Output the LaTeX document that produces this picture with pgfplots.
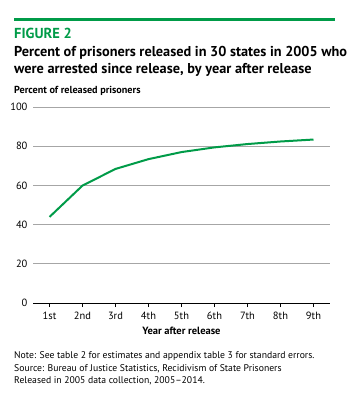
\documentclass[border=0pt]{standalone}
\usepackage{pgfplots}
\pgfplotsset{compat=1.18}
\usepackage{fontspec}
\setmainfont{PT Sans}
\definecolor{bjsgreen}{RGB}{0,155,72}
\begin{document}
\begin{tikzpicture}
\path (-33pt,-94pt) rectangle (330pt,303pt);
\begin{axis}[
  anchor=south west,
  scale only axis, width=297pt, height=196pt,
  xmin=0.5, xmax=9.5, ymin=0, ymax=100,
  xtick={1,...,9},
  xticklabels={1st,2nd,3rd,4th,5th,6th,7th,8th,9th},
  ytick={0,20,40,60,80,100},
  axis x line*=bottom, axis y line*=left,
  y axis line style={draw=none},
  x axis line style={line width=1pt, -},
  xtick style={black, line width=0.8pt},
  ytick style={draw=none},
  tick align=outside, major tick length=4pt,
  ymajorgrids, grid style={gray!70, line width=0.8pt},
  tick label style={font=\fontsize{10.5}{12}\selectfont},
  /pgf/number format/assume math mode=true,
  yticklabel style={xshift=2pt},
  xticklabel style={yshift=-1.5pt},
  xlabel={Year after release},
  xlabel style={font=\fontsize{10.5}{12}\selectfont\bfseries, yshift=-1pt},
]
\addplot[bjsgreen, line width=2pt] coordinates {
(1,43.9) (2,59.9) (3,68.4) (4,73.4) (5,77.0) (6,79.4) (7,81.1) (8,82.4) (9,83.4)};
\end{axis}
\begin{scope}[x=1pt,y=1pt,shift={(-33pt,-94pt)}]
\node[anchor=north west, fill=bjsgreen, draw=none, minimum width=321pt, minimum height=3pt, inner sep=0, outer sep=0] at (14,378.5) {};
\node[anchor=base west, inner sep=0, text=bjsgreen, font=\fontsize{14.5}{16}\selectfont\bfseries] at (14,358.5) {FIGURE 2};
\node[anchor=base west, inner sep=0, font=\fontsize{14.3}{15}\selectfont\bfseries] at (14,340.5) {Percent of prisoners released in 30 states in 2005 who};
\node[anchor=base west, inner sep=0, font=\fontsize{14.3}{15}\selectfont\bfseries] at (14,323.5) {were arrested since release, by year after release};
\node[anchor=base west, inner sep=0, font=\fontsize{10.2}{11}\selectfont\bfseries] at (14,303.5) {Percent of released prisoners};
\node[anchor=base west, inner sep=0, font=\fontsize{9.7}{11}\selectfont] at (14,39) {Note: See table 2 for estimates and appendix table 3 for standard errors.};
\node[anchor=base west, inner sep=0, font=\fontsize{9.7}{11}\selectfont] at (14,26) {Source: Bureau of Justice Statistics, Recidivism of State Prisoners};
\node[anchor=base west, inner sep=0, font=\fontsize{9.7}{11}\selectfont] at (14,14) {Released in 2005 data collection, 2005--2014.};
\end{scope}
\end{tikzpicture}
\end{document}
